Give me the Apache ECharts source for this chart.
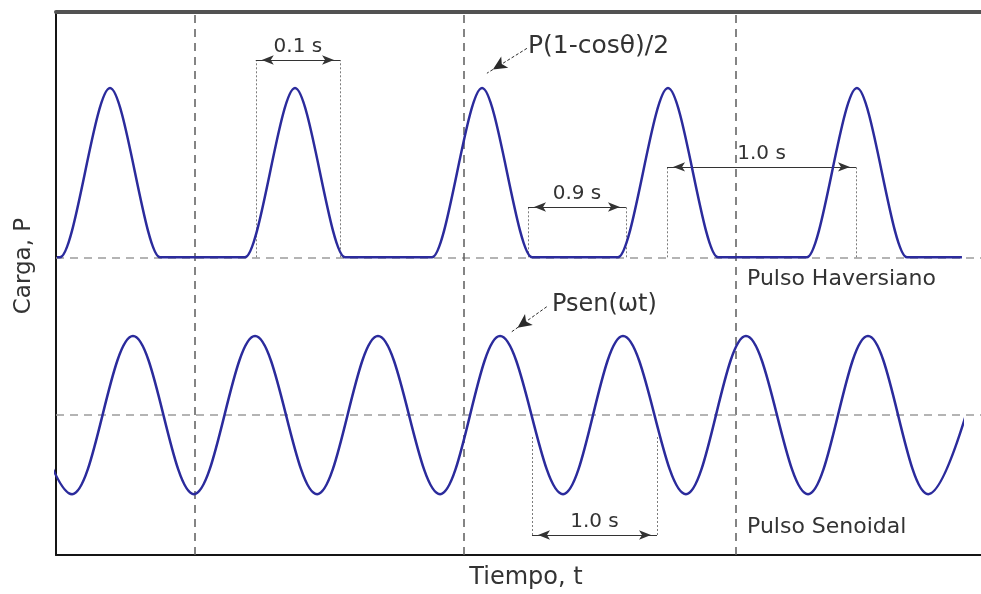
<!DOCTYPE html>
<html>
<head>
<meta charset="utf-8">
<script src="https://cdn.jsdelivr.net/npm/echarts@6/dist/echarts.min.js"></script>
<style>
  html, body { margin: 0; padding: 0; background: #ffffff; }
  #chart { width: 981px; height: 594px; }
</style>
</head>
<body>
<div id="chart"></div>
<script>
// Haversine load pulses: peak times (s); each pulse rises from 0 to P and back
const pulsePeaks = [0.289, 1.279, 2.280, 3.275, 4.286];
const pulseOffsets = [-0.268, 0, 0.268];
const pulseValues = [0, 1, 0];
const haversineStart = 0.005;
const haversineEnd = 4.848;

// Sinusoidal load: successive peaks and troughs (s, load / P)
const sineTimes = [-0.241, 0.086, 0.412, 0.738, 1.065, 1.397, 1.723, 2.055, 2.376,
                   2.713, 3.034, 3.371, 3.692, 4.024, 4.345, 4.667, 4.985];
const sineValues = [1, -1, 1, -1, 1, -1, 1, -1, 1,
                    -1, 1, -1, 1, -1, 1, -1, 1];
const sineEnd = 4.848;

// Vertical reference lines (s)
const guideTimes = [0.738, 2.183, 3.644];

// Dimension markers: text and the span they measure (s)
const dimLabels = ['0.1 s', '0.9 s', '1.0 s', '1.0 s'];
const dimFrom = [1.069, 2.526, 3.270, 2.547];
const dimTo = [1.520, 3.050, 4.281, 3.216];

const FONT = 'DejaVu Sans';
const INK = '#333333';
const CURVE = '#2b2b9c';
const T_MAX = 4.95;

const havData = [[haversineStart, 0]];
pulsePeaks.forEach(function (p) {
  pulseOffsets.forEach(function (o, i) {
    havData.push([Math.round((p + o) * 1000) / 1000, pulseValues[i]]);
  });
});
havData.push([haversineEnd, 0]);

const sineData = sineTimes.map(function (t, i) { return [t, sineValues[i]]; });

const hDash = { color: '#9c9c9c', type: [8, 6], width: 1.5 };
const vDash = { color: '#5c5c5c', type: [8, 6], width: 1.5 };
const dotted = { color: '#7c7c7c', type: [2, 2], width: 1 };
const dimLine = { color: INK, type: 'solid', width: 1 };
const pointerLine = { color: '#2a2a2a', type: [3, 2], width: 1 };
const dimText = { color: INK, fontSize: 20, fontFamily: FONT };

// Dimension line: two dotted extension lines plus a double arrow with its text
function dimension(k, level, base) {
  const a = dimFrom[k], b = dimTo[k];
  const head = { symbol: 'arrow', symbolSize: [7, 12], symbolOffset: [0, '50%'] };
  const label = Object.assign({ show: true, position: 'middle', distance: 3, formatter: dimLabels[k] }, dimText);
  return [
    [{ coord: [a, base], lineStyle: dotted }, { coord: [a, level] }],
    [{ coord: [b, base], lineStyle: dotted }, { coord: [b, level] }],
    [Object.assign({ coord: [a, level], lineStyle: dimLine, label: label }, head),
     Object.assign({ coord: [b, level], label: label }, head)]
  ];
}

function pointer(from, to) {
  return [{ coord: from, lineStyle: pointerLine },
          { coord: to, symbol: 'arrow', symbolSize: [10, 14], symbolOffset: [0, '50%'] }];
}

const havMarks = [{ yAxis: 0, lineStyle: hDash }]
  .concat(guideTimes.map(function (t) { return { xAxis: t, lineStyle: vDash }; }))
  .concat(dimension(0, 1.166, 0))
  .concat(dimension(1, 0.297, 0))
  .concat(dimension(2, 0.534, 0))
  .concat([pointer([2.520, 1.235], [2.306, 1.088])]);

const sineMarks = dimension(3, -1.517, -0.277)
  .concat([pointer([2.626, 1.371], [2.439, 1.055])]);

const hidden = {
  axisTick: { show: false }, axisLabel: { show: false }, splitLine: { show: false }
};
function axis(extra) { return Object.assign({ type: 'value' }, hidden, extra); }

function text(str, x, y, size, extra) {
  return Object.assign({
    type: 'text', x: x, y: y, silent: true,
    style: {
      text: str, fill: INK, fontSize: size, fontFamily: FONT,
      align: 'left', verticalAlign: 'middle'
    }
  }, extra || {});
}

const markLineBase = {
  silent: true, symbol: 'none', animation: false,
  label: Object.assign({ show: false }, dimText)
};

const frameLine = { show: true, onZero: false, lineStyle: { color: '#151515', width: 2 } };

const chart = echarts.init(document.getElementById('chart'), null, { renderer: 'canvas' });
chart.setOption({
  animation: false,
  backgroundColor: '#ffffff',
  grid: [
    { left: 56, right: 0, top: 12, bottom: 39 },
    // the sine trace ends short of the right edge
    { left: 56, right: 19, top: 12, bottom: 39 }
  ],
  xAxis: [
    axis({ gridIndex: 0, min: 0, max: T_MAX, position: 'bottom', axisLine: frameLine }),
    axis({ gridIndex: 0, min: 0, max: T_MAX, position: 'top',
           axisLine: { show: true, onZero: false, lineStyle: { color: '#525252', width: 4 } } }),
    axis({ gridIndex: 1, min: 0, max: sineEnd, show: false })
  ],
  yAxis: [
    axis({ gridIndex: 0, min: -1.76, max: 1.45, position: 'left', axisLine: frameLine }),
    axis({ gridIndex: 0, min: -1.77, max: 5.1, show: false }),
    axis({ gridIndex: 1, min: -1.77, max: 5.1, show: false })
  ],
  series: [
    {
      name: 'Pulso Haversiano', type: 'line', xAxisIndex: 0, yAxisIndex: 0,
      data: havData, smooth: 0.3, smoothMonotone: 'x', showSymbol: false, symbol: 'none',
      lineStyle: { color: CURVE, width: 2.5 }, itemStyle: { color: CURVE },
      z: 5,
      markLine: Object.assign({ data: havMarks }, markLineBase)
    },
    {
      name: 'Pulso Senoidal', type: 'line', xAxisIndex: 2, yAxisIndex: 2,
      data: sineData, smooth: 0.36, smoothMonotone: 'x', showSymbol: false, symbol: 'none',
      lineStyle: { color: CURVE, width: 2.5 }, itemStyle: { color: CURVE }, clip: true,
      z: 5,
      markLine: Object.assign({ data: sineMarks }, markLineBase)
    },
    {
      // mid-line of the sine trace, across the full frame
      name: 'eje', type: 'line', xAxisIndex: 0, yAxisIndex: 1, data: [],
      markLine: Object.assign({ data: [{ yAxis: 0, lineStyle: hDash }] }, markLineBase)
    }
  ],
  graphic: [
    text('P(1-cos\u03b8)/2', 528, 46, 25),
    text('Psen(\u03c9t)', 552, 305, 24),
    text('Pulso Haversiano', 747, 279, 22),
    text('Pulso Senoidal', 747, 527, 22),
    text('Carga, P', 24, 266, 23, { rotation: Math.PI / 2, style: {
      text: 'Carga, P', fill: INK, fontSize: 23, fontFamily: FONT,
      align: 'center', verticalAlign: 'middle' } }),
    text('Tiempo, t', 526, 578, 24, { style: {
      text: 'Tiempo, t', fill: INK, fontSize: 24, fontFamily: FONT,
      align: 'center', verticalAlign: 'middle' } })
  ]
});
</script>
</body>
</html>
